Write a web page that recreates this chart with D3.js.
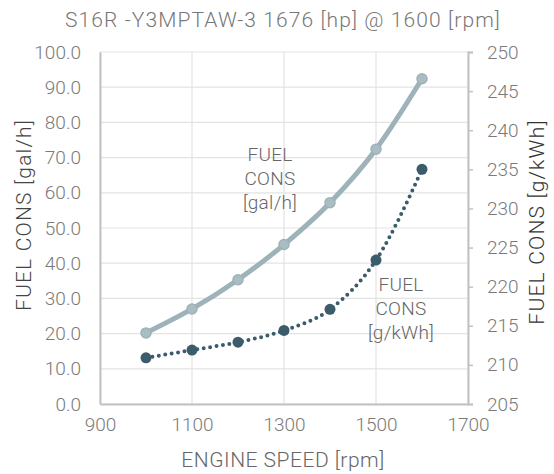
<!DOCTYPE html>
<html>
<head>
<meta charset="utf-8">
<script src="https://cdn.jsdelivr.net/npm/d3@7"></script>
<style>
  body { margin: 0; background: #fff; }
  svg { display: block; }
</style>
</head>
<body>
<div class="chart"></div>
<script>
// data
const rpm = [1000, 1100, 1200, 1300, 1400, 1500, 1600];
const galPerHour = [20.2, 27.0, 35.3, 45.3, 57.2, 72.4, 92.4];
const gPerKwh = [210.9, 211.9, 212.9, 214.4, 217.1, 223.4, 235.0];
const xTicks = [900, 1100, 1300, 1500, 1700];
const leftTicks = [0, 10, 20, 30, 40, 50, 60, 70, 80, 90, 100];
const rightTicks = [205, 210, 215, 220, 225, 230, 235, 240, 245, 250];

const dims = { width: 554, height: 474 };
const margin = { top: 52, right: 86, bottom: 70, left: 100 };
const font = "Roboto, 'DejaVu Sans', sans-serif";

const svg = d3.select(".chart")
  .append("svg")
  .attr("width", dims.width)
  .attr("height", dims.height);

const x = d3.scaleLinear().domain([900, 1700]).range([margin.left, dims.width - margin.right]);
const yL = d3.scaleLinear().domain([0, 100]).range([dims.height - margin.bottom, margin.top]);
const yR = d3.scaleLinear().domain([205, 250]).range([dims.height - margin.bottom, margin.top]);

// gridlines
svg.append("g").selectAll("line").data(leftTicks).enter().append("line")
  .attr("x1", x(900)).attr("x2", x(1700))
  .attr("y1", d => yL(d)).attr("y2", d => yL(d))
  .attr("stroke", "#e3e3e3").attr("stroke-width", 1.2);
svg.append("g").selectAll("line").data(xTicks).enter().append("line")
  .attr("x1", d => x(d)).attr("x2", d => x(d))
  .attr("y1", yL(0)).attr("y2", yL(100))
  .attr("stroke", "#e3e3e3").attr("stroke-width", 1.2);

// axes
const leftAxis = svg.append("g").attr("transform", `translate(${x(900)},0)`)
  .call(d3.axisLeft(yL).tickValues(leftTicks).tickSize(0).tickPadding(19).tickFormat(d3.format(".1f")));
const rightAxis = svg.append("g").attr("transform", `translate(${x(1700)},0)`)
  .call(d3.axisRight(yR).tickValues(rightTicks).tickSize(5).tickPadding(14).tickFormat(d3.format("d")));
const bottomAxis = svg.append("g").attr("transform", `translate(0,${yL(0)})`)
  .call(d3.axisBottom(x).tickValues(xTicks).tickSize(0).tickPadding(14).tickFormat(d3.format("d")));

[leftAxis, rightAxis, bottomAxis].forEach(a => {
  a.select(".domain").attr("stroke", "#c2c2c2").attr("stroke-width", 2);
  a.selectAll(".tick line").attr("stroke", "#c2c2c2").attr("stroke-width", 1.5);
  a.selectAll(".tick text").attr("font-family", font).attr("font-size", 19)
    .attr("font-weight", 300).attr("fill", "#7a7a7a");
});

// gal/h curve
const galLine = d3.line().x((d, i) => x(rpm[i])).y(d => yL(d)).curve(d3.curveMonotoneX);
svg.append("path").datum(galPerHour).attr("d", galLine)
  .attr("fill", "none").attr("stroke", "#9db3b9").attr("stroke-width", 5)
  .attr("stroke-linecap", "round");
svg.append("g").selectAll("circle").data(galPerHour).enter().append("circle")
  .attr("cx", (d, i) => x(rpm[i])).attr("cy", d => yL(d)).attr("r", 5)
  .attr("fill", "#a9bdc2").attr("stroke", "#9db3b9").attr("stroke-width", 1.5);

// g/kWh curve
const bsfcLine = d3.line().x((d, i) => x(rpm[i])).y(d => yR(d)).curve(d3.curveMonotoneX);
svg.append("path").datum(gPerKwh).attr("d", bsfcLine)
  .attr("fill", "none").attr("stroke", "#3b5c6a").attr("stroke-width", 4)
  .attr("stroke-dasharray", "0 6.5").attr("stroke-linecap", "round");
svg.append("g").selectAll("circle").data(gPerKwh).enter().append("circle")
  .attr("cx", (d, i) => x(rpm[i])).attr("cy", d => yR(d)).attr("r", 5.5)
  .attr("fill", "#3b5c6a");

// title and axis titles
svg.append("text").attr("x", 283).attr("y", 27).attr("text-anchor", "middle")
  .attr("font-family", font).attr("font-size", 21).attr("font-weight", 300)
  .attr("letter-spacing", 1.1)
  .attr("fill", "#777").text("S16R -Y3MPTAW-3 1676 [hp] @ 1600 [rpm]");
svg.append("text").attr("transform", "translate(24,215) rotate(-90)")
  .attr("text-anchor", "middle").attr("dominant-baseline", "central")
  .attr("font-family", font).attr("font-size", 21).attr("font-weight", 300)
  .attr("letter-spacing", 1.2)
  .attr("fill", "#444").text("FUEL CONS [gal/h]");
svg.append("text").attr("transform", "translate(537,222) rotate(-90)")
  .attr("text-anchor", "middle").attr("dominant-baseline", "central")
  .attr("font-family", font).attr("font-size", 21).attr("font-weight", 300)
  .attr("letter-spacing", 1.2)
  .attr("fill", "#333").text("FUEL CONS [g/kWh]");
svg.append("text").attr("x", 283).attr("y", 467).attr("text-anchor", "middle")
  .attr("font-family", font).attr("font-size", 21).attr("font-weight", 300)
  .attr("letter-spacing", 0.5)
  .attr("fill", "#666").text("ENGINE SPEED [rpm]");

// series labels
const galLabel = ["FUEL", "CONS", "[gal/h]"];
const bsfcLabel = ["FUEL", "CONS", "[g/kWh]"];
svg.append("g").selectAll("text").data(galLabel).enter().append("text")
  .attr("x", 270).attr("y", (d, i) => 154 + i * 24)
  .attr("text-anchor", "middle").attr("dominant-baseline", "central")
  .attr("font-family", font).attr("font-size", 19).attr("font-weight", 300)
  .attr("letter-spacing", 0.3)
  .attr("fill", "#666").text(d => d);
svg.append("g").selectAll("text").data(bsfcLabel).enter().append("text")
  .attr("x", 401).attr("y", (d, i) => 284 + i * 24)
  .attr("text-anchor", "middle").attr("dominant-baseline", "central")
  .attr("font-family", font).attr("font-size", 19).attr("font-weight", 300)
  .attr("letter-spacing", 0.3)
  .attr("fill", "#666").text(d => d);
</script>
</body>
</html>
